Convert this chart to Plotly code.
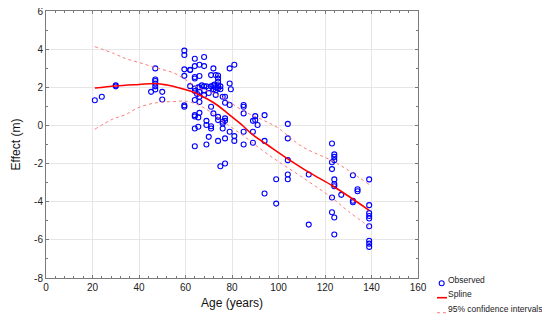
import plotly.graph_objects as go

# Observed data (age in years, effect in m)
obs_x = [21, 24, 30, 30,
         45.2, 47, 47, 47, 47, 47, 47, 50, 50,
         59.5, 59.5, 59.5, 59.5, 59.5, 59.5,
         62, 62, 62,
         64, 64, 64, 64, 64, 64, 64, 64, 64, 64, 64,
         65.5, 65.5, 65.5, 65, 66, 66, 66, 66, 66, 66, 66, 67,
         68, 68, 68, 68, 68, 69, 69, 69, 69, 70, 70, 70,
         71, 71, 71, 71, 71, 72, 72, 72, 72, 72.5,
         73, 73, 73, 73, 74, 74, 74, 74, 74, 74, 74, 74,
         75, 75, 75, 76, 76, 76, 76,
         77, 77, 77, 77, 77, 77, 79, 79, 79, 79, 79.5,
         81, 81, 81, 85, 85, 85, 85, 85,
         89, 89, 89, 90, 90, 91, 94, 94, 94,
         99, 99, 104, 104, 104, 104, 104, 113, 113,
         123, 123, 123, 123, 123,
         124, 124, 124, 124, 124, 124, 124, 124,
         127, 132, 132, 132, 134, 134,
         139, 139, 139, 139, 139, 139, 139, 139, 139]
obs_y = [1.32, 1.5, 2.1, 2.05,
         1.76, 2.99, 2.41, 2.33, 2.2, 2.05, 1.89, 1.76, 1.36,
         3.92, 3.69, 2.94, 2.6, 1.05, 0.98,
         2.92, 2.06, 2.9,
         3.5, 3.11, 2.54, 2.46, 1.94, 1.8, 1.33, 0.54, 0.47, -0.16, -1.09,
         2.0, 0.42, -0.07, 1.65, 3.18, 2.59, 1.76, 1.5, 1.23, 0.66, 2.0, 2.1,
         3.59, 3.11, 1.59, 2.05, 1.85, 0.24, 0.02, -1.0, 2.05, -0.6, 1.95, 1.7,
         2.64, 2.05, 0.98, -0.04, -0.16, 2.99, 2.1, 1.9, 0.63, 2.15,
         2.64, 2.0, 1.85, 1.6, 2.62, 2.46, 2.29, 2.1, 1.95, 0.45, 0.28, -0.81,
         -2.14, 2.05, 1.9, 1.5, 0.19, 0.1, -0.16,
         1.5, 1.19, 0.37, 0.24, -0.68, -2.0, 2.99, 2.2, 1.07, -0.33, 1.9,
         3.18, -0.56, -0.81, 1.07, 0.98, 0.63, -0.33, -1.0,
         0.24, -0.33, -0.91, 0.49, 0.28, 0.02, 0.54, -0.81, -3.57,
         -2.82, -4.1, 0.08, -0.68, -1.82, -2.57, -2.82, -2.57, -5.2,
         -0.95, -1.93, -2.29, -3.78, -4.55,
         -1.52, -1.65, -1.82, -2.83, -3.08, -3.19, -4.83, -5.72,
         -3.64, -2.61, -3.95, -4.03, -3.35, -3.45,
         -2.83, -4.18, -4.6, -4.75, -4.88, -5.29, -6.05, -6.2, -6.37]

# Spline fit
spline_x = [21, 30, 40, 47, 52, 57, 62, 66, 72, 78, 84, 89, 95, 104, 113, 123, 130, 139]
spline_y = [1.96, 2.07, 2.15, 2.2, 2.12, 1.98, 1.8, 1.6, 1.2, 0.65, 0.05, -0.5, -1.0,
            -1.75, -2.45, -3.15, -3.7, -4.45]

# 95% confidence intervals
ci_x = [21, 29, 34, 40, 48, 55, 60, 66, 72, 78, 85, 93, 100, 110, 123, 130, 139]
ci_upper = [4.13, 3.78, 3.52, 3.3, 3.0, 2.75, 2.4, 1.95, 1.7, 1.3, 0.75, 0.3, -0.15,
            -1.1, -1.85, -2.35, -3.1]
ci_lower = [-0.2, 0.35, 0.55, 0.95, 1.2, 1.25, 1.27, 1.05, 0.6, 0.05, -0.55, -1.3, -1.9,
            -2.7, -3.8, -4.5, -5.3]

x_ticks = [0, 20, 40, 60, 80, 100, 120, 140, 160]
y_ticks = [-8, -6, -4, -2, 0, 2, 4, 6]
legend_labels = ["Observed", "Spline", "95% confidence intervals"]

BLUE = "#0000ff"
RED = "#ff0000"
PINK = "#ff7a7a"
FONT = "Liberation Sans, Arial"

fig = go.Figure()
fig.add_trace(go.Scatter(x=obs_x, y=obs_y, mode="markers", name=legend_labels[0],
                         marker=dict(symbol="circle-open", size=5, color=BLUE,
                                     line=dict(width=1.1, color=BLUE))))
fig.add_trace(go.Scatter(x=spline_x, y=spline_y, mode="lines", name=legend_labels[1],
                         line=dict(color=RED, width=1.6, shape="spline")))
fig.add_trace(go.Scatter(x=ci_x, y=ci_upper, mode="lines", name=legend_labels[2],
                         line=dict(color=PINK, width=1, dash="dot", shape="spline")))
fig.add_trace(go.Scatter(x=ci_x, y=ci_lower, mode="lines", name=legend_labels[2],
                         line=dict(color=PINK, width=1, dash="dot", shape="spline")))

axis_common = dict(showline=True, linecolor="#7a7a7a", linewidth=1, mirror="ticks",
                   showgrid=True, gridcolor="#e6e6e6", gridwidth=1, zeroline=False,
                   ticks="inside", ticklen=3, tickcolor="#7a7a7a", automargin=False,
                   ticklabeloverflow="allow",
                   tickfont=dict(family=FONT, size=10, color="#222"))

fig.update_xaxes(range=[0, 160], tickvals=x_ticks, ticktext=[str(v) for v in x_ticks],
                 minor=dict(dtick=4, ticks="inside", ticklen=2, tickcolor="#7a7a7a", showgrid=False),
                 title=dict(text="Age (years)", standoff=6,
                            font=dict(family=FONT, size=12, color="#111")),
                 **axis_common)
fig.update_yaxes(range=[-8, 6], tickvals=y_ticks, ticktext=[str(v) for v in y_ticks],
                 minor=dict(dtick=1, ticks="inside", ticklen=2, tickcolor="#7a7a7a", showgrid=False),
                 title=dict(text="Effect (m)", standoff=10,
                            font=dict(family=FONT, size=12, color="#111")),
                 **axis_common)

# Compact legend drawn in paper coordinates (outside the plot, lower right)
leg_text_x = 1.0753
leg_rows = [-0.0075, -0.061, -0.117]
sym_rows = [-0.0195, -0.0738, -0.13]
for label, yy in zip(legend_labels, leg_rows):
    fig.add_annotation(xref="paper", yref="paper", x=leg_text_x, y=yy, text=label,
                       showarrow=False, xanchor="left", yanchor="middle",
                       font=dict(family=FONT, size=8.5, color="#222"))
fig.add_shape(type="circle", xref="paper", yref="paper",
              x0=1.0570, x1=1.0704, y0=sym_rows[0] - 0.0094, y1=sym_rows[0] + 0.0094,
              line=dict(color=BLUE, width=1.1))
fig.add_shape(type="line", xref="paper", yref="paper", x0=1.051, x1=1.078,
              y0=sym_rows[1], y1=sym_rows[1], line=dict(color=RED, width=1.6))
fig.add_shape(type="line", xref="paper", yref="paper", x0=1.051, x1=1.078,
              y0=sym_rows[2], y1=sym_rows[2], line=dict(color=PINK, width=1, dash="dot"))

# The page adds an 8px body margin, so the figure is sized to the visible area
fig.update_layout(
    width=542, height=314,
    margin=dict(l=38, r=132, t=3, b=44),
    paper_bgcolor="white", plot_bgcolor="white",
    showlegend=False,
)

fig.write_html("out.html")
